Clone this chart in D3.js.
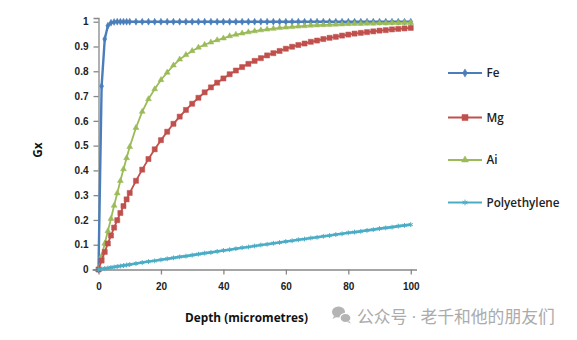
<!DOCTYPE html>
<html>
<head>
<meta charset="utf-8">
<script src="https://cdn.jsdelivr.net/npm/d3@7"></script>
<style>
  html, body { margin: 0; padding: 0; background: #fff; }
  svg { display: block; font-family: "Open Sans", "Noto Sans", sans-serif; }
</style>
</head>
<body>
<svg id="chart" width="577" height="340"></svg>
<script>
// ---- data ----
const depth = [0,1,2,3,4,5,6,7,8,9,10,12,14,16,18,20,22,24,26,28,30,32,34,36,38,40,42,44,46,48,50,
  52,54,56,58,60,62,64,66,68,70,72,74,76,78,80,82,84,86,88,90,92,94,96,98,100];

const fe = [0,0.74,0.93,0.984,0.996,0.999,1,1,1,1,1,1,1,1,1,1,1,1,1,1,1,1,1,1,1,1,1,1,1,1,1,
  1,1,1,1,1,1,1,1,1,1,1,1,1,1,1,1,1,1,1,1,1,1,1,1,1];

const mg = [0,0.036,0.071,0.105,0.137,0.169,0.199,0.228,0.256,0.283,0.309,0.358,0.403,0.446,0.485,0.522,
  0.556,0.588,0.617,0.644,0.669,0.693,0.715,0.735,0.754,0.771,0.788,0.803,0.817,0.830,0.842,
  0.853,0.864,0.873,0.882,0.891,0.899,0.906,0.912,0.919,0.924,0.930,0.935,0.939,0.944,0.948,
  0.952,0.955,0.958,0.961,0.964,0.966,0.969,0.971,0.973,0.975];

const ai = [0,0.055,0.105,0.155,0.205,0.258,0.308,0.358,0.405,0.45,0.495,0.572,0.637,0.688,0.728,0.765,
  0.795,0.824,0.848,0.866,0.882,0.896,0.907,0.917,0.926,0.933,0.942,0.948,0.953,0.958,0.962,
  0.966,0.969,0.972,0.975,0.977,0.979,0.981,0.983,0.985,0.986,0.987,0.988,0.989,0.990,0.991,
  0.992,0.992,0.993,0.993,0.994,0.994,0.995,0.995,0.996,0.996];

const poly = [0,0.002,0.004,0.006,0.008,0.010,0.012,0.014,0.016,0.018,0.020,0.024,0.028,0.032,0.035,0.039,
  0.043,0.047,0.051,0.054,0.058,0.062,0.066,0.069,0.073,0.077,0.080,0.084,0.088,0.091,0.095,
  0.099,0.102,0.106,0.109,0.113,0.116,0.120,0.123,0.127,0.130,0.134,0.137,0.141,0.144,0.148,
  0.151,0.154,0.158,0.161,0.165,0.168,0.171,0.175,0.178,0.181];

const seriesNames = ["Fe", "Mg", "Ai", "Polyethylene"];
const xTicks = [0, 20, 40, 60, 80, 100];
const yTicks = [0, 0.1, 0.2, 0.3, 0.4, 0.5, 0.6, 0.7, 0.8, 0.9, 1];
const xTitle = "Depth (micrometres)";
const yTitle = "Gx";
const watermark = "公众号 · 老千和他的朋友们";

// ---- drawing ----
const svg = d3.select("#chart");
const colors = ["#4a7ebb", "#c0504d", "#9bbb59", "#4bacc6"];
const symbols = [d3.symbolDiamond, d3.symbolSquare, d3.symbolTriangle, d3.symbolAsterisk];
const symSizes = [14, 26, 15, 16];
const values = [fe, mg, ai, poly];

const x = d3.scaleLinear().domain([0, 102]).range([98.5, 417]);
const y = d3.scaleLinear().domain([0, 1.015]).range([269.5, 18]);

const axisColor = "#878787";
const textColor = "#222";

// y axis
const gy = svg.append("g").attr("transform", `translate(${x(0)},0)`)
  .call(d3.axisLeft(y).tickValues(yTicks).tickSize(5).tickPadding(5)
    .tickFormat(d => d === 0 ? "0" : d === 1 ? "1" : d3.format(".1f")(d)));
gy.select(".domain").attr("stroke", axisColor).attr("stroke-width", 1.3);
gy.selectAll(".tick line").attr("stroke", axisColor).attr("stroke-width", 1.3);
gy.selectAll(".tick text").attr("fill", textColor).style("font-size", "10px").style("font-weight", 600);

// x axis
const gx = svg.append("g").attr("transform", `translate(0,${y(0)})`)
  .call(d3.axisBottom(x).tickValues(xTicks).tickSize(5).tickPadding(8));
gx.select(".domain").attr("stroke", axisColor).attr("stroke-width", 1.3)
  .attr("d", `M${x(0) - 6},0.5H${x(102)}`);
gx.selectAll(".tick line").attr("stroke", axisColor).attr("stroke-width", 1.3);
gx.selectAll(".tick text").attr("fill", textColor).style("font-size", "10px").style("font-weight", 600);

// axis titles
svg.append("text").attr("x", 246.5).attr("y", 322).attr("text-anchor", "middle")
  .attr("fill", "#111").style("font-size", "11.8px").style("font-weight", 700).text(xTitle);
svg.append("text").attr("transform", "translate(42,150) rotate(-90)").attr("text-anchor", "middle")
  .attr("fill", "#111").style("font-size", "11.8px").style("font-weight", 700).text(yTitle);

// series
const line = d3.line().x(d => x(d[0])).y(d => y(d[1]));
const plot = svg.append("g");
[0, 2, 1, 3].forEach(i => {
  const pts = depth.map((d, j) => [d, values[i][j]]);
  const g = plot.append("g");
  g.append("path").datum(pts).attr("d", line).attr("fill", "none")
    .attr("stroke", colors[i]).attr("stroke-width", i === 0 ? 2.4 : (i === 3 ? 2.6 : 1.8))
    .attr("stroke-linejoin", "round");
  const sym = d3.symbol().type(symbols[i]).size(symSizes[i]);
  g.selectAll("path.m").data(pts).join("path").attr("class", "m")
    .attr("transform", d => `translate(${x(d[0])},${y(d[1])})`)
    .attr("d", sym)
    .attr("fill", i === 3 ? "none" : colors[i])
    .attr("stroke", colors[i]).attr("stroke-width", i === 3 ? 1 : 0.5);
});

// legend
const legY = [73, 117.5, 160, 202.5];
const leg = svg.append("g");
seriesNames.forEach((name, i) => {
  const g = leg.append("g").attr("transform", `translate(0,${legY[i]})`);
  g.append("line").attr("x1", 448).attr("x2", 482).attr("y1", 0).attr("y2", 0)
    .attr("stroke", colors[i]).attr("stroke-width", 1.8);
  g.append("path").attr("transform", "translate(465,0)")
    .attr("d", d3.symbol().type(symbols[i]).size(symSizes[i] * 1.4))
    .attr("fill", i === 3 ? "none" : colors[i]).attr("stroke", colors[i]).attr("stroke-width", i === 3 ? 1 : 0.5);
  g.append("text").attr("x", 486.5).attr("y", 4.2).attr("fill", textColor)
    .style("font-size", "11.7px").style("font-weight", 600).text(name);
});

// watermark
const wm = svg.append("g").attr("fill", "#b4b4b4");
wm.append("ellipse").attr("cx", 338.5).attr("cy", 312).attr("rx", 6.5).attr("ry", 5.5);
wm.append("path").attr("d", "M334,316 l-1.5,3 l4,-2 z");
wm.append("ellipse").attr("cx", 345.5).attr("cy", 318).attr("rx", 5.5).attr("ry", 4.7)
  .attr("stroke", "#fff").attr("stroke-width", 1.2);
wm.append("path").attr("d", "M349,321 l2,2.5 l-3.5,-1.5 z");
wm.append("text").attr("x", 357).attr("y", 322.5).attr("fill", "#ababab")
  .style("font-family", "'Open Sans', 'Noto Sans CJK SC', sans-serif").style("font-size", "16.8px")
  .text(watermark);
</script>
</body>
</html>
